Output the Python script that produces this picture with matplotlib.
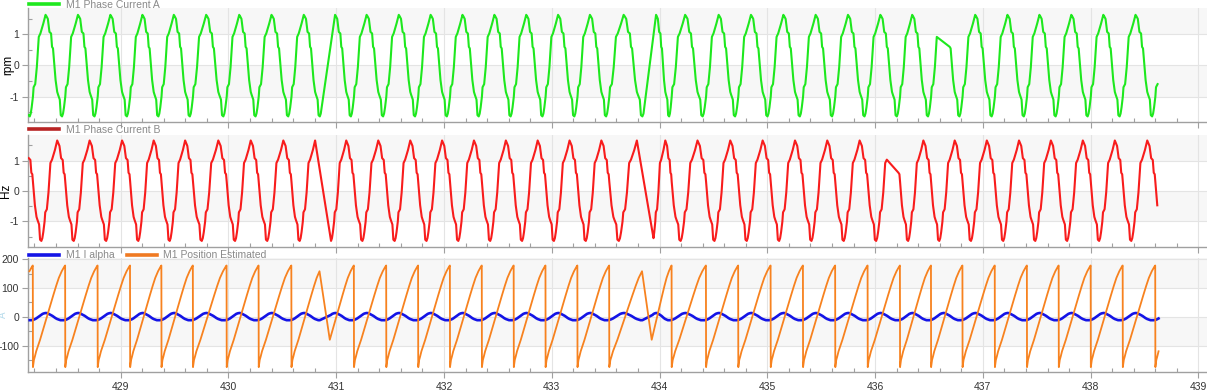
import numpy as np
import matplotlib
matplotlib.use("Agg")
import matplotlib.pyplot as plt
from matplotlib.lines import Line2D
from matplotlib.ticker import MultipleLocator

plt.rcParams['font.family'] = ['Liberation Sans', 'DejaVu Sans']
plt.rcParams['axes.unicode_minus'] = False

# times where the estimated position wraps from +180 to -180 (start of each electrical cycle)
cycle_starts = [427.887, 428.186, 428.486, 428.787, 429.088, 429.379, 429.671, 429.984,
                430.281, 430.585, 430.877, 431.165, 431.465, 431.761, 432.056, 432.352,
                432.648, 432.943, 433.239, 433.534, 433.875, 434.113, 434.432, 434.731,
                435.032, 435.332, 435.631, 435.932, 436.232, 436.520, 436.812, 437.112,
                437.410, 437.705, 438.002, 438.299, 438.601, 438.895]
t_first = 428.143
t_last = 438.631

# one cycle of each signal (phase 0..1 within a cycle)
phase_a = [0.00, 0.02, 0.07, 0.12, 0.18, 0.23, 0.32, 0.39, 0.42, 0.46, 0.51, 0.56,
           0.59, 0.62, 0.70, 0.75, 0.78, 0.83, 0.86, 0.90, 0.93, 0.96]
current_a = [-1.00, -0.70, -0.60, -0.05, 0.92, 1.03, 1.35, 1.63, 1.58, 1.50, 1.08, 1.03,
             0.60, 0.55, -0.47, -0.85, -0.95, -1.10, -1.60, -1.64, -1.55, -1.35]

phase_b = [0.00, 0.06, 0.11, 0.14, 0.19, 0.22, 0.26, 0.29, 0.32, 0.36, 0.38, 0.43,
           0.48, 0.54, 0.59, 0.68, 0.75, 0.78, 0.82, 0.87, 0.92, 0.95, 0.98]
current_b = [0.30, -0.47, -0.85, -0.95, -1.10, -1.60, -1.64, -1.55, -1.35, -1.00, -0.70, -0.60,
             -0.05, 0.92, 1.03, 1.35, 1.66, 1.58, 1.48, 1.08, 1.02, 0.60, 0.55]

phase_alpha = [0.00, 0.05, 0.10, 0.15, 0.20, 0.25, 0.30, 0.35, 0.40, 0.45,
               0.50, 0.55, 0.60, 0.65, 0.70, 0.75, 0.80, 0.85, 0.90, 0.95]
i_alpha = [-11, -9, -6, -2, 2, 6, 10, 12, 13, 12, 9, 6, 3, -1, -5, -8, -10, -12, -12, -12]

phase_pos = [0.00, 0.03, 0.06, 0.10, 0.16, 0.22, 0.32, 0.42, 0.52, 0.63,
             0.72, 0.80, 0.85, 0.89, 0.93, 0.97, 0.995]
position = [-175, -150, -138, -120, -100, -80, -42, -5, 35, 75,
            108, 135, 148, 158, 166, 174, 178]

# stretches with missing samples (the plot draws straight lines across them)
gaps_a = [(430.862, 430.980), (433.856, 433.965), (436.585, 436.686)]
gaps_b = [(430.812, 430.950), (433.795, 433.937), (436.120, 436.215)]
gaps_pos = [(430.850, 430.935), (433.850, 433.925)]


def build(phases, values, gaps):
    ts, vs = [], []
    for a, b in zip(cycle_starts[:-1], cycle_starts[1:]):
        for p, v in zip(phases, values):
            ts.append(a + p * (b - a))
            vs.append(v)
    ts, vs = np.array(ts), np.array(vs)
    keep = (ts >= t_first) & (ts <= t_last)
    for g0, g1 in gaps:
        keep &= ~((ts > g0) & (ts < g1))
    return ts[keep], vs[keep]


fig = plt.figure(figsize=(12.07, 3.90), dpi=100)
W, H = 1207, 390
left = 28 / W
width = 1 - left
boxes = [(8, 122), (135, 247), (258, 372)]
axes = [fig.add_axes([left, 1 - b / H, width, (b - t) / H]) for t, b in boxes]

band = '#f7f7f7'
grid = '#e4e4e4'
spine = '#a0a0a0'

ylims = [(-1.82, 1.85), (-1.84, 1.84), (-192, 204)]
majors = [1, 1, 100]
for ax, yl, mj in zip(axes, ylims, majors):
    ax.set_xlim(428.14, 439.08)
    ax.set_ylim(*yl)
    ax.axhspan(mj, yl[1], color=band, zorder=0, lw=0)
    ax.axhspan(-mj, 0, color=band, zorder=0, lw=0)
    ax.xaxis.set_major_locator(MultipleLocator(1))
    ax.xaxis.set_minor_locator(MultipleLocator(0.2))
    ax.yaxis.set_major_locator(MultipleLocator(mj))
    ax.yaxis.set_minor_locator(MultipleLocator(mj / 2))
    ax.grid(True, which='major', color=grid, lw=0.8, zorder=0.5)
    for s in ['top', 'right']:
        ax.spines[s].set_visible(False)
    for s in ['left', 'bottom']:
        ax.spines[s].set_color(spine)
        ax.spines[s].set_linewidth(1.0)
    ax.tick_params(axis='both', which='major', direction='out', length=4.5, width=0.8,
                   color=spine, labelsize=7.5, labelcolor='#333333', pad=2)
    ax.tick_params(axis='both', which='minor', direction='in', length=3, width=0.8, color=spine)
    ax.set_axisbelow(True)

axes[0].tick_params(axis='x', labelbottom=False)
axes[1].tick_params(axis='x', labelbottom=False)
axes[2].tick_params(axis='x', pad=3)

# panel 1
t, v = build(phase_a, current_a, gaps_a)
axes[0].plot(t, v, color='#1ee81e', lw=1.5, zorder=3)
axes[0].set_ylabel('rpm', fontsize=8.5)
axes[0].yaxis.set_label_coords(-0.0119, 0.5)

# panel 2
t, v = build(phase_b, current_b, gaps_b)
axes[1].plot(t, v, color='#f81c1c', lw=1.5, zorder=3)
axes[1].set_ylabel('Hz', fontsize=8.5)
axes[1].yaxis.set_label_coords(-0.0136, 0.5)

# panel 3
t, v = build(phase_alpha, i_alpha, gaps_pos)
axes[2].plot(t, v, color='#1414e6', lw=1.9, zorder=3)
t, v = build(phase_pos, position, gaps_pos)
axes[2].plot(t, v, color='#f7821f', lw=1.3, zorder=4)
axes[2].set_ylabel('A', fontsize=7, color='#b8dcec')
axes[2].yaxis.set_label_coords(-0.0170, 0.5)

legends = [
    [('#1ee81e', 'M1 Phase Current A')],
    [('#b82424', 'M1 Phase Current B')],
    [('#1414e6', 'M1 I alpha'), ('#f07a22', 'M1 Position Estimated')],
]
anchors = [0.976, 0.991, 0.970]
for ax, items, anc in zip(axes, legends, anchors):
    handles = [Line2D([0], [0], color=c, lw=2.6) for c, _ in items]
    labels = [l for _, l in items]
    ax.legend(handles, labels, loc='lower left', bbox_to_anchor=(0.0, anc), ncol=len(items),
              frameon=False, fontsize=7.5, labelcolor='#8a8a8a', handlelength=2.9,
              handletextpad=0.6, columnspacing=1.2, borderaxespad=0.0, borderpad=0.1)

fig.savefig('out.png', dpi=100)
